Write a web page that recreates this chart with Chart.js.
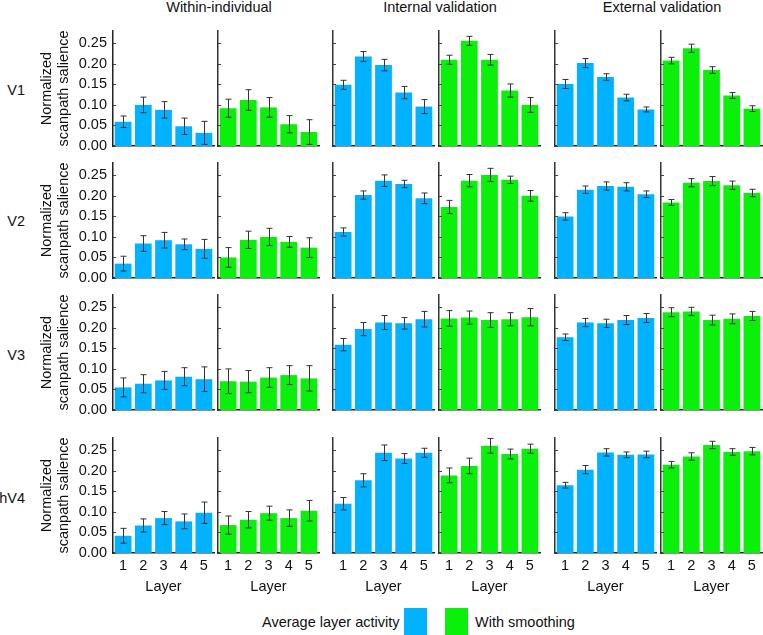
<!DOCTYPE html>
<html>
<head>
<meta charset="utf-8">
<script src="https://cdn.jsdelivr.net/npm/chart.js@4/dist/chart.umd.min.js"></script>
<style>
  body { margin: 0; width: 763px; height: 635px; position: relative; overflow: hidden; background: #fff;
         font-family: "Liberation Sans", Arial, sans-serif; color: #111; }
  .txt { position: absolute; white-space: nowrap; font-size: 14.5px; line-height: 17px; }
  .head { transform: translateX(-50%); top: -1px; }
  .row { text-align: right; width: 40px; left: -15px; }
  .box { position: absolute; width: 23px; height: 27px; }
  canvas { position: absolute; }
</style>
</head>
<body>

<div class="txt head" style="left:219px">Within-individual</div>
<div class="txt head" style="left:440px">Internal validation</div>
<div class="txt head" style="left:662px">External validation</div>

<div class="txt row" style="top:82px">V1</div>
<div class="txt row" style="top:213px">V2</div>
<div class="txt row" style="top:347px">V3</div>
<div class="txt row" style="top:490px">hV4</div>

<div class="txt" style="left:262px;top:614px">Average layer activity</div>
<div class="box" style="left:404px;top:608px;background:#00b2ff"></div>
<div class="box" style="left:445px;top:608px;background:#0bf00b"></div>
<div class="txt" style="left:475px;top:614px">With smoothing</div>

<script>
const layers = ['1', '2', '3', '4', '5'];
const yTicks = [0, 0.05, 0.10, 0.15, 0.20, 0.25];
const yMax = 0.28;
const seriesNames = ['Average layer activity', 'With smoothing'];

// per area: within avg, within smooth, internal avg, internal smooth, external avg, external smooth
const v1Mean = [
  [0.059, 0.100, 0.088, 0.048, 0.032],
  [0.092, 0.112, 0.094, 0.053, 0.034],
  [0.149, 0.218, 0.197, 0.130, 0.096],
  [0.210, 0.256, 0.210, 0.135, 0.100],
  [0.151, 0.202, 0.168, 0.118, 0.089],
  [0.208, 0.238, 0.185, 0.123, 0.091]
];
const v1Err = [
  [0.014, 0.019, 0.020, 0.020, 0.028],
  [0.022, 0.025, 0.024, 0.021, 0.030],
  [0.011, 0.012, 0.014, 0.015, 0.017],
  [0.011, 0.011, 0.013, 0.016, 0.018],
  [0.011, 0.011, 0.008, 0.008, 0.006],
  [0.008, 0.010, 0.008, 0.007, 0.007]
];
const v2Mean = [
  [0.035, 0.084, 0.092, 0.082, 0.071],
  [0.050, 0.093, 0.100, 0.088, 0.074],
  [0.112, 0.202, 0.237, 0.229, 0.194],
  [0.173, 0.237, 0.251, 0.239, 0.200],
  [0.150, 0.215, 0.224, 0.222, 0.204],
  [0.184, 0.232, 0.236, 0.226, 0.207]
];
const v2Err = [
  [0.018, 0.019, 0.019, 0.013, 0.023],
  [0.024, 0.021, 0.021, 0.013, 0.024],
  [0.010, 0.010, 0.014, 0.009, 0.013],
  [0.016, 0.015, 0.016, 0.009, 0.013],
  [0.009, 0.009, 0.010, 0.010, 0.008],
  [0.007, 0.010, 0.011, 0.010, 0.009]
];
const v3Mean = [
  [0.055, 0.064, 0.072, 0.081, 0.075],
  [0.070, 0.069, 0.079, 0.085, 0.077],
  [0.159, 0.197, 0.213, 0.211, 0.221],
  [0.223, 0.225, 0.219, 0.221, 0.226],
  [0.177, 0.213, 0.211, 0.219, 0.224],
  [0.238, 0.240, 0.219, 0.222, 0.229]
];
const v3Err = [
  [0.023, 0.022, 0.022, 0.022, 0.030],
  [0.030, 0.027, 0.024, 0.023, 0.031],
  [0.015, 0.016, 0.017, 0.014, 0.019],
  [0.019, 0.016, 0.018, 0.016, 0.021],
  [0.008, 0.010, 0.010, 0.011, 0.011],
  [0.011, 0.010, 0.012, 0.012, 0.011]
];
const hv4Mean = [
  [0.042, 0.067, 0.085, 0.077, 0.098],
  [0.068, 0.081, 0.097, 0.085, 0.103],
  [0.120, 0.177, 0.244, 0.230, 0.244],
  [0.189, 0.212, 0.261, 0.241, 0.254],
  [0.165, 0.203, 0.245, 0.239, 0.240],
  [0.215, 0.235, 0.263, 0.246, 0.248]
];
const hv4Err = [
  [0.018, 0.016, 0.016, 0.018, 0.026],
  [0.022, 0.020, 0.017, 0.020, 0.025],
  [0.015, 0.016, 0.019, 0.012, 0.011],
  [0.018, 0.019, 0.018, 0.012, 0.011],
  [0.007, 0.010, 0.009, 0.007, 0.008],
  [0.008, 0.009, 0.009, 0.008, 0.009]
];

const means = [v1Mean, v2Mean, v3Mean, hv4Mean];
const errs = [v1Err, v2Err, v3Err, hv4Err];
const colors = ['#00b2ff', '#0bf00b'];

// panel placement (plot area in page px)
const colLeft = [113, 218, 333, 439, 555, 661];
const rowTop = [31, 163, 295, 438];
const plotW = 101, plotH = 115;

Chart.defaults.font.family = '"Liberation Sans", Arial, sans-serif';
Chart.defaults.color = '#111';

// error bars + small inward y ticks
const errorBars = {
  id: 'errorBars',
  afterDatasetsDraw(chart) {
    const ctx = chart.ctx;
    const y = chart.scales.y;
    const ds = chart.data.datasets[0];
    const meta = chart.getDatasetMeta(0);
    ctx.save();
    ctx.strokeStyle = '#444';
    ctx.lineWidth = 1;
    yTicks.forEach(v => {
      const py = Math.round(y.getPixelForValue(v)) + 0.5;
      ctx.beginPath();
      ctx.moveTo(chart.chartArea.left, py);
      ctx.lineTo(chart.chartArea.left + 3, py);
      ctx.stroke();
    });
    ctx.strokeStyle = '#333';
    meta.data.forEach((bar, i) => {
      const v = ds.data[i], e = ds.errorBars[i];
      const x = Math.round(bar.x) + 0.5;
      const top = y.getPixelForValue(v + e);
      const bot = y.getPixelForValue(v - e);
      ctx.beginPath();
      ctx.moveTo(x, top); ctx.lineTo(x, bot);
      ctx.moveTo(x - 3, top); ctx.lineTo(x + 3, top);
      ctx.moveTo(x - 3, bot); ctx.lineTo(x + 3, bot);
      ctx.stroke();
    });
    ctx.restore();
  }
};

for (let r = 0; r < 4; r++) {
  for (let c = 0; c < 6; c++) {
    const first = c === 0;
    const bottom = r === 3;
    const L = first ? 75 : 6;
    const T = 16, R = 4;
    const B = bottom ? 43 : 16;
    const cv = document.createElement('canvas');
    cv.width = L + plotW + R;
    cv.height = T + plotH + B;
    cv.style.left = (colLeft[c] - L) + 'px';
    cv.style.top = (rowTop[r] - T) + 'px';
    document.body.appendChild(cv);

    new Chart(cv, {
      type: 'bar',
      data: {
        labels: layers,
        datasets: [{
          label: seriesNames[c % 2],
          data: means[r][c],
          errorBars: errs[r][c],
          backgroundColor: colors[c % 2],
          borderWidth: 0,
          barPercentage: 0.83,
          categoryPercentage: 1.0
        }]
      },
      options: {
        responsive: false,
        animation: false,
        devicePixelRatio: 1,
        layout: { padding: { top: T, right: R, left: 0, bottom: 0 } },
        plugins: { legend: { display: false }, tooltip: { enabled: false } },
        scales: {
          x: {
            grid: { display: false, drawTicks: false },
            border: { display: true, color: '#222', width: 1.5 },
            ticks: { display: bottom, padding: 4, font: { size: 14.5 }, maxRotation: 0 },
            title: { display: bottom, text: 'Layer', font: { size: 14.5 }, padding: 0 },
            afterFit: s => { s.height = B; }
          },
          y: {
            min: 0,
            max: yMax,
            grid: { display: false, drawTicks: false },
            border: { display: true, color: first ? '#222' : '#333', width: 1.5 },
            ticks: {
              display: first,
              padding: 6,
              font: { size: 14.5 },
              callback: v => v.toFixed(2)
            },
            afterBuildTicks: s => { s.ticks = yTicks.map(v => ({ value: v })); },
            title: {
              display: first,
              text: ['Normalized', 'scanpath salience'],
              font: { size: 14.5 },
              padding: 0
            },
            afterFit: s => { s.width = L; }
          }
        }
      },
      plugins: [errorBars]
    });
  }
}
</script>
</body>
</html>
